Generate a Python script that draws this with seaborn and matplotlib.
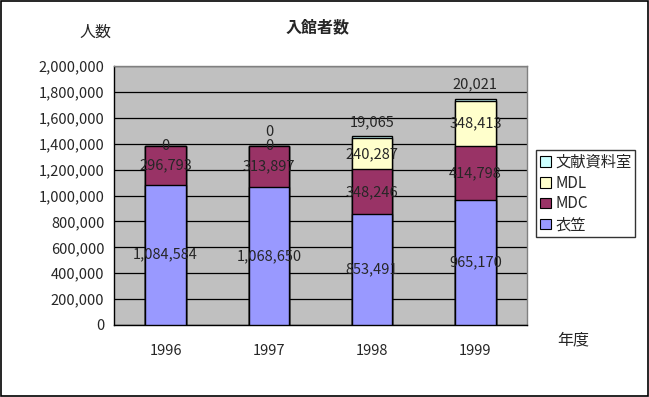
import numpy as np
import pandas as pd
import matplotlib
matplotlib.use('Agg')
import matplotlib.pyplot as plt
import seaborn as sns
from matplotlib.patches import Rectangle, Patch
from matplotlib.ticker import FuncFormatter, FixedLocator

years = ['1996', '1997', '1998', '1999']
kinugasa = [1084584, 1068650, 853491, 965170]
mdc = [296793, 313897, 348246, 414798]
mdl = [0, 0, 240287, 348413]
bunken = [np.nan, 0, 19065, 20021]

series_names = ['衣笠', 'MDC', 'MDL', '文献資料室']
colors = ['#9999FF', '#993366', '#FFFFCC', '#CCFFFF']

sns.set_style('white')
plt.rcParams['font.family'] = ['Noto Sans CJK JP', 'DejaVu Sans']

df = pd.DataFrame({'year': years, '衣笠': kinugasa, 'MDC': mdc,
                   'MDL': mdl, '文献資料室': bunken})
layers = df[series_names].fillna(0).cumsum(axis=1)

fig = plt.figure(figsize=(6.49, 3.97), dpi=100)
ax = fig.add_axes([114 / 649, 1 - 325 / 397, 413 / 649, 259 / 397])
ax.set_facecolor('#C0C0C0')

# stacked bars: draw the tallest cumulative first, then the lower ones over it
for name, col in reversed(list(zip(series_names, colors))):
    sns.barplot(x=df['year'], y=layers[name], color=col, width=0.39,
                edgecolor='black', linewidth=1.0, saturation=1, ax=ax, zorder=3)

ax.set_ylim(0, 2000000)
ax.set_xlim(-0.5, 3.5)
ax.yaxis.set_major_locator(FixedLocator(np.arange(0, 2000001, 200000)))
ax.yaxis.set_major_formatter(FuncFormatter(lambda v, p: f'{int(v):,}'))
ax.grid(axis='y', color='black', linewidth=0.9, zorder=0)
ax.set_axisbelow(True)
ax.set_xlabel('')
ax.set_ylabel('')

ax.tick_params(axis='y', direction='out', length=4, width=0.8, labelsize=10.5, pad=3)
ax.tick_params(axis='x', which='major', length=0, labelsize=10.5, pad=14)
ax.xaxis.set_minor_locator(FixedLocator([0.5, 1.5, 2.5]))
ax.tick_params(axis='x', which='minor', direction='in', length=4, width=0.8)

for side in ['left', 'bottom']:
    ax.spines[side].set_color('black')
    ax.spines[side].set_linewidth(1.0)
for side in ['top', 'right']:
    ax.spines[side].set_color('#808080')
    ax.spines[side].set_linewidth(1.0)

# data labels
bottoms = np.zeros(len(years))
for name in series_names:
    vals = df[name].values
    for i, v in enumerate(vals):
        if np.isnan(v):
            continue
        if name == '文献資料室':
            ax.annotate(f'{int(v):,}', (i, bottoms[i] + v), xytext=(0, 10),
                        textcoords='offset points', ha='center', va='center',
                        fontsize=10.5, zorder=5)
        else:
            ax.text(i, bottoms[i] + v / 2, f'{int(v):,}', ha='center',
                    va='center', fontsize=10.5, zorder=5)
    bottoms = bottoms + np.nan_to_num(vals)

handles = [Patch(facecolor=c, edgecolor='black', linewidth=0.8, label=n)
           for n, c in zip(series_names, colors)][::-1]
leg = fig.legend(handles=handles, loc='upper left',
                 bbox_to_anchor=(536 / 649, 1 - 150 / 397), fontsize=11,
                 frameon=True, fancybox=False, handlelength=0.7,
                 handleheight=0.7, handletextpad=0.3, borderpad=0.25,
                 labelspacing=0.25, borderaxespad=0)
leg.get_frame().set_edgecolor('black')
leg.get_frame().set_linewidth(1.0)

fig.text(318 / 649, 1 - 27 / 397, '入館者数', ha='center', va='center',
         fontsize=11.5, fontweight='bold')
fig.text(95 / 649, 1 - 32 / 397, '人数', ha='center', va='center', fontsize=11.5)
fig.text(573 / 649, 1 - 340 / 397, '年度', ha='center', va='center', fontsize=11.5)

fig.patches.append(Rectangle((0.001, 0.002), 0.997, 0.996, transform=fig.transFigure,
                             fill=False, edgecolor='black', linewidth=1.2))

fig.savefig('out.png', dpi=100)
